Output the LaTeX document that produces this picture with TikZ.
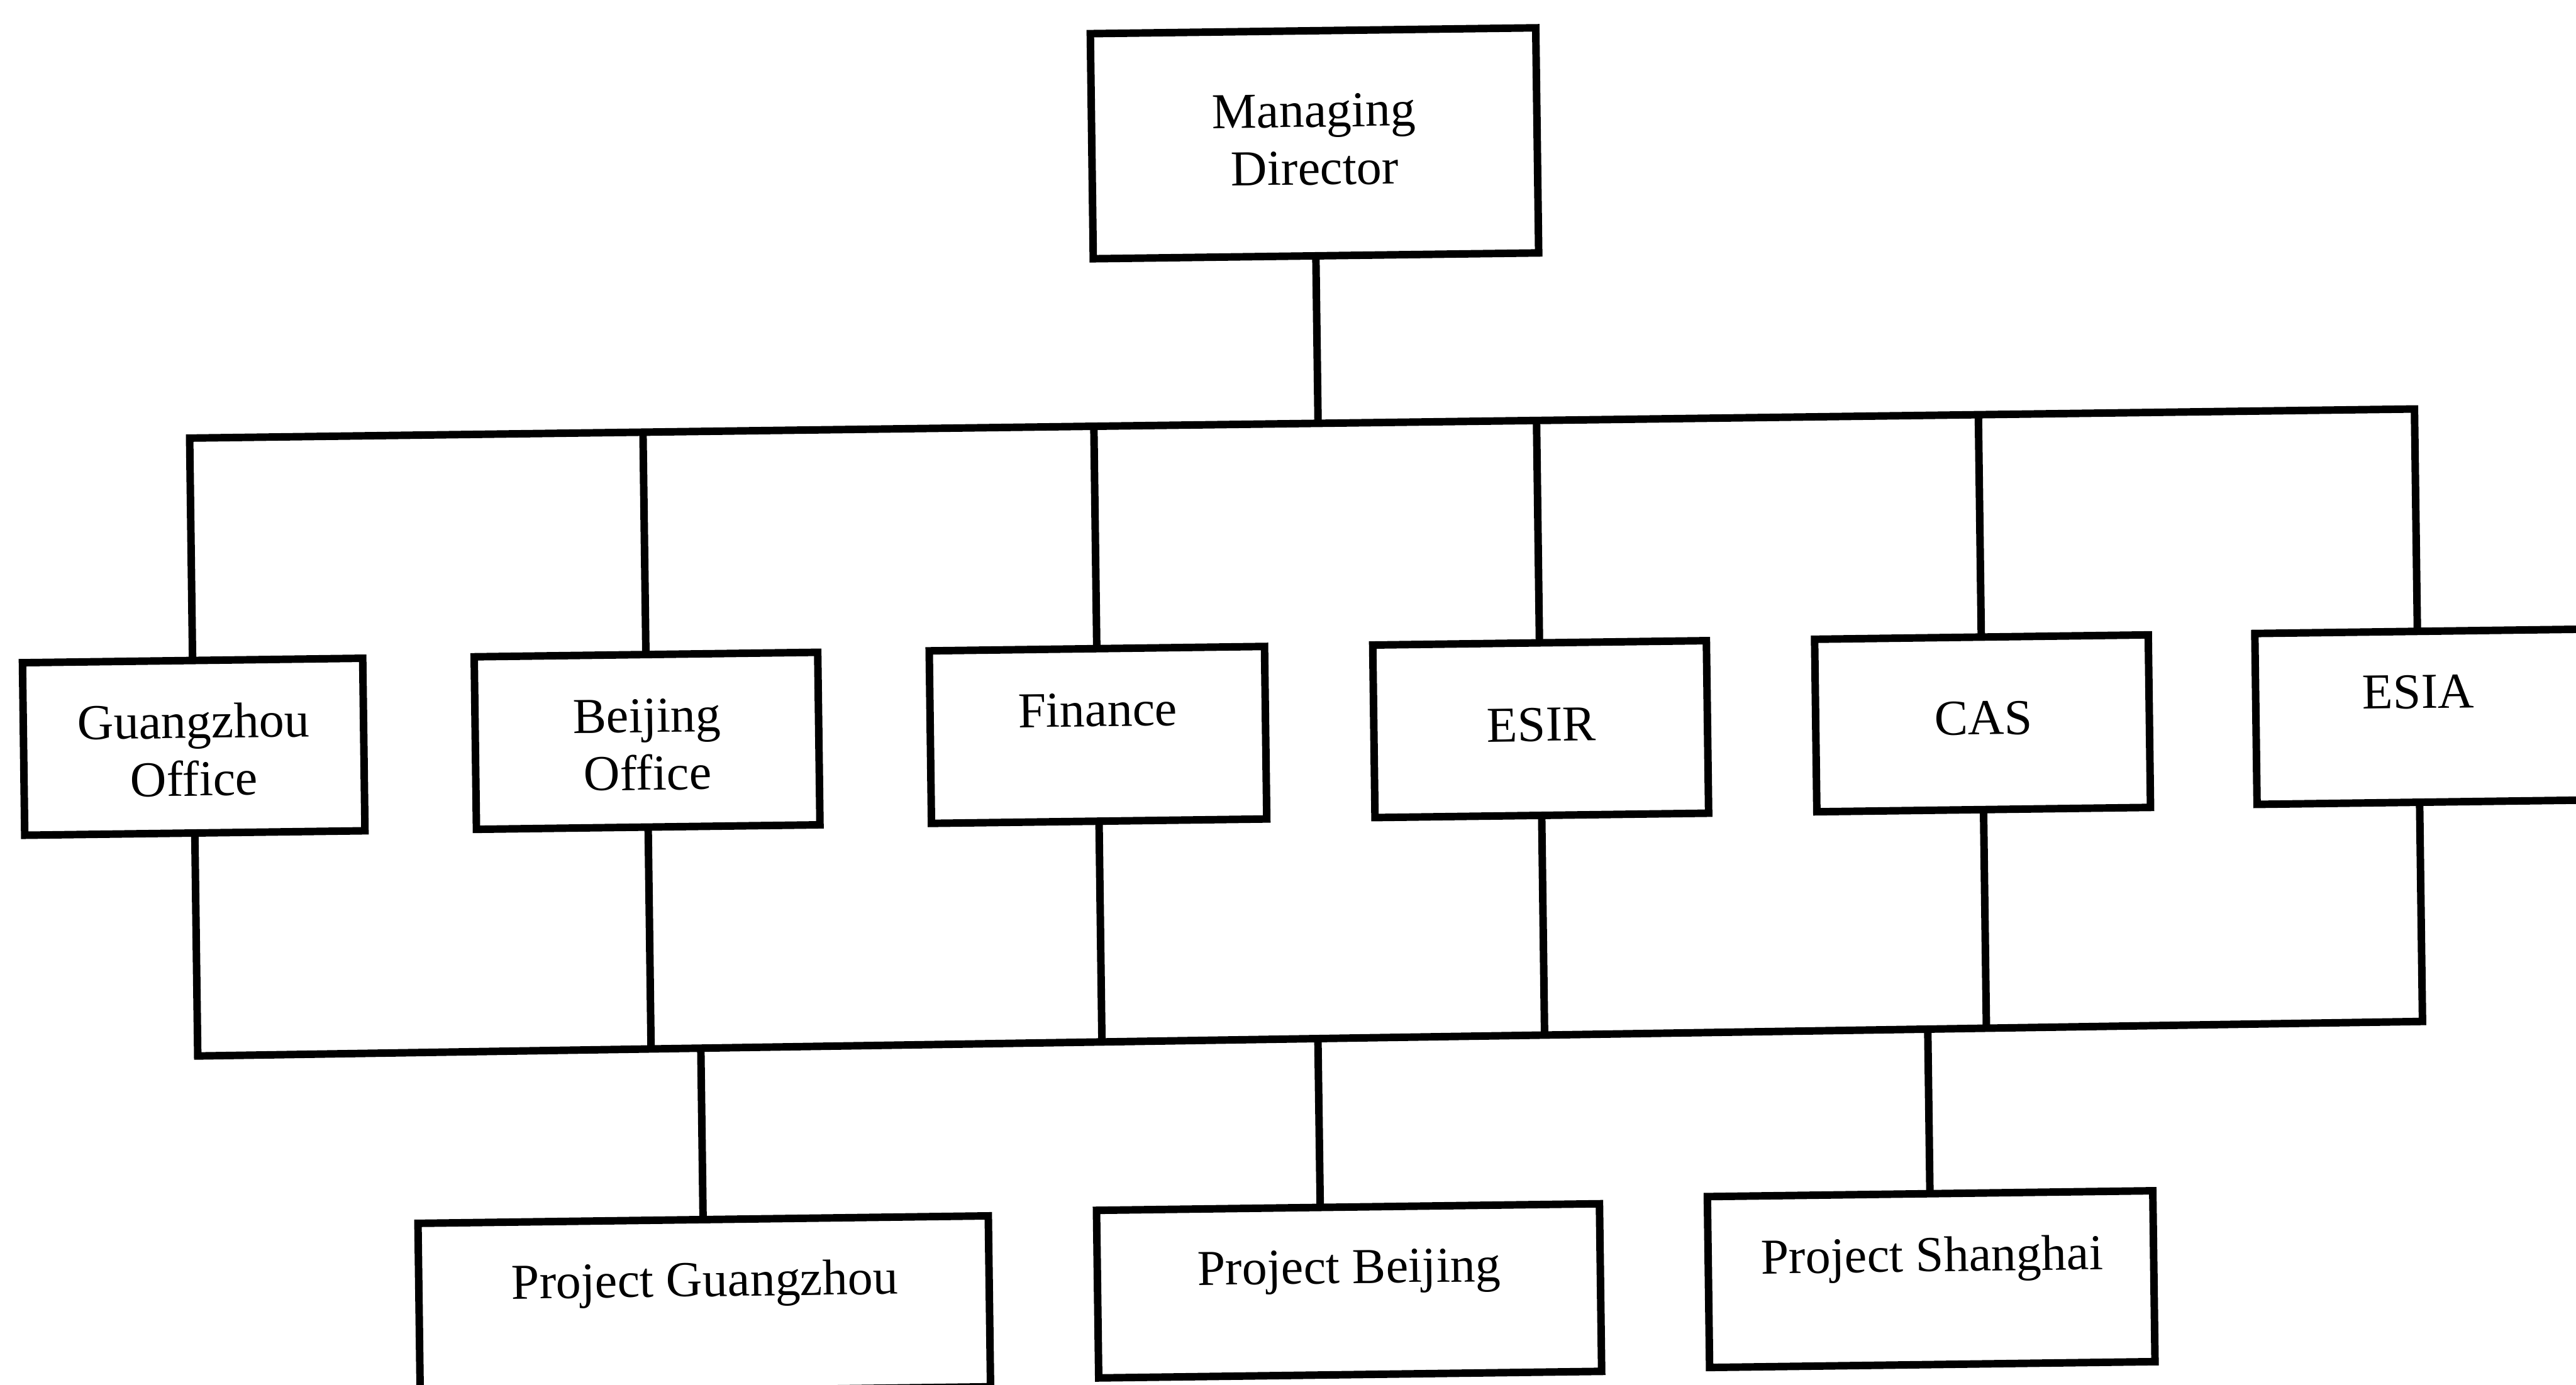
\documentclass[tikz,border=0pt]{standalone}
\usepackage{fontspec}
\setmainfont{Liberation Serif}
\usetikzlibrary{calc}
\begin{document}
\begin{tikzpicture}[x=0.01cm,y=0.01cm,
  box/.style={draw, line width=1.3pt, inner sep=0pt, outer sep=0pt},
  conn/.style={line width=1.3pt, line join=miter},
  lbl/.style={inner sep=0pt, align=center, font=\fontsize{8.7}{10}\selectfont},
  lblone/.style={lbl, text height=5.9pt, text depth=0pt}]
\useasboundingbox (0,0) rectangle (1568,843);
\fill[white] (0,0) rectangle (1568,843);
\clip (0,0) rectangle (1568,843);
\begin{scope}[rotate around={0.75:(784,422)}, transform shape]
% boxes
\node[box, minimum width=2.71cm, minimum height=1.37cm] (md) at (804.5,755.5) {};
\node[box, minimum width=2.07cm, minimum height=1.05cm] (go) at (117.5,397) {};
\node[box, minimum width=2.09cm, minimum height=1.05cm] (bo) at (393.5,397) {};
\node[box, minimum width=2.04cm, minimum height=1.05cm] (fin) at (668,397) {};
\node[box, minimum width=2.03cm, minimum height=1.05cm] (esir) at (937.5,397) {};
\node[box, minimum width=2.03cm, minimum height=1.05cm] (cas) at (1206.5,397) {};
\node[box, minimum width=2.06cm, minimum height=1.04cm] (esia) at (1476,397.5) {};
\node[box, minimum width=3.47cm, minimum height=1.04cm] (pg) at (423.8,53) {};
\node[box, minimum width=3.06cm, minimum height=1.02cm] (pb) at (816.4,56.5) {};
\node[box, minimum width=2.71cm, minimum height=1.04cm] (ps) at (1170.8,59) {};
% labels
\node[lbl] (mdT) at (804.4,757.8) {Managing\\Director};
\node[lbl] (goT) at (117.5,395.2) {Guangzhou\\Office};
\node[lbl] (boT) at (393.6,394.6) {Beijing\\Office};
\node[lblone] (finT) at (668,412.5) {Finance};
\node[lblone] (esirT) at (938,400) {ESIR};
\node[lblone] (casT) at (1207,400.5) {CAS};
\node[lblone] (esiaT) at (1472,413) {ESIA};
\node[lblone] (pgT) at (424.3,68.6) {Project Guangzhou};
\node[lblone] (pbT) at (816.5,71.5) {Project Beijing};
\node[lblone] (psT) at (1171.5,74) {Project Shanghai};
% bus junctions
\coordinate (t1) at (117.5,585);
\coordinate (t2) at (393.5,585);
\coordinate (t3) at (668,585);
\coordinate (t4) at (804.5,585);
\coordinate (t5) at (937.5,585);
\coordinate (t6) at (1206.5,585);
\coordinate (t7) at (1472,585);
\coordinate (b1) at (117.5,208.7);
\coordinate (b2) at (393.5,209.4);
\coordinate (b3) at (668,210.0);
\coordinate (b4) at (937.5,210.7);
\coordinate (b5) at (1206.5,211.35);
\coordinate (b6) at (1472,212.0);
\coordinate (bg) at (423.8,209.45);
\coordinate (bb) at (799.5,210.36);
\coordinate (bs) at (1170.8,211.27);
\coordinate (esiaN) at (1472,449.5);
\coordinate (esiaS) at (1472,345.5);
% top level
\draw[conn] (md.south) -- (t4);
\draw[conn] (go.north) -- (t1) -- (t7) -- (esiaN);
\draw[conn] (bo.north) -- (t2);
\draw[conn] (fin.north) -- (t3);
\draw[conn] (esir.north) -- (t5);
\draw[conn] (cas.north) -- (t6);
% bottom level
\draw[conn] (go.south) -- (b1) -- (b6) -- (esiaS);
\draw[conn] (bo.south) -- (b2);
\draw[conn] (fin.south) -- (b3);
\draw[conn] (esir.south) -- (b4);
\draw[conn] (cas.south) -- (b5);
\draw[conn] (bg) -- (pg.north);
\draw[conn] (bb) -- ($(pb.north west)!0.445!(pb.north east)$);
\draw[conn] (bs) -- (ps.north);
\end{scope}
\end{tikzpicture}
\end{document}
